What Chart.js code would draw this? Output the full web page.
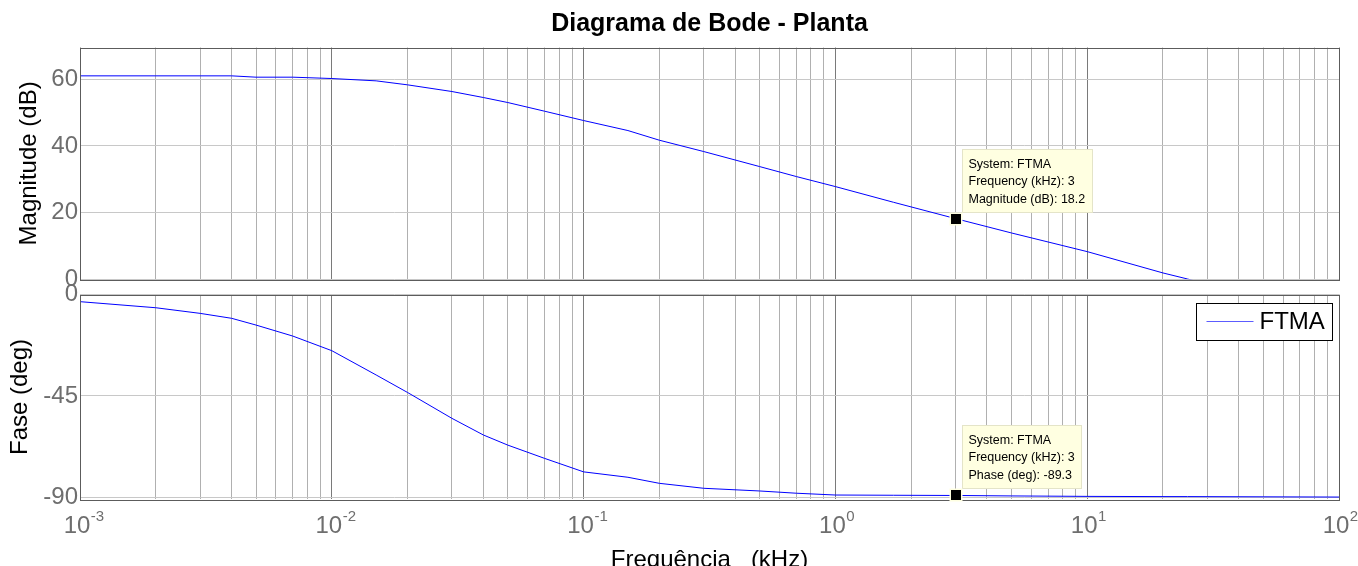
<!DOCTYPE html>
<html>
<head>
<meta charset="utf-8">
<title>Diagrama de Bode - Planta</title>
<script src="https://cdn.jsdelivr.net/npm/chart.js@4.4.1/dist/chart.umd.min.js"></script>
<style>
  html, body { margin: 0; padding: 0; background: #fff; overflow: hidden; }
  #wrap { position: relative; width: 1358px; height: 566px; overflow: hidden; }
  .panel { position: absolute; left: 0; width: 1358px; height: 300px; }
  #magBox { top: 0; }
  #phaseBox { top: 284px; }
</style>
</head>
<body>
<div id="wrap">
  <div class="panel" id="magBox"><canvas id="magChart"></canvas></div>
  <div class="panel" id="phaseBox"><canvas id="phaseChart"></canvas></div>
</div>
<script>
// values
const freqKHz = [0.001, 0.002, 0.003, 0.004, 0.005, 0.007, 0.01, 0.015, 0.02, 0.03, 0.04, 0.05, 0.07,
  0.1, 0.15, 0.2, 0.3, 0.5, 0.7, 1, 1.7, 3, 5, 10, 20, 25, 50, 100];
const magDb = [61.0, 61.0, 61.0, 61.0, 60.6, 60.6, 60.2, 59.5, 58.3, 56.3, 54.5, 53.0, 50.4,
  47.6, 44.6, 41.7, 38.3, 33.8, 30.8, 27.8, 23.1, 18.2, 13.9, 8.3, 1.9, 0.1, -6, -12];
const phaseDeg = [-3.1, -5.8, -8.3, -10.5, -13.5, -18.4, -24.9, -35.7, -43.5, -55.0, -62.4, -66.9, -72.8,
  -78.8, -81.2, -83.9, -86.1, -87.3, -88.3, -89.1, -89.2, -89.3, -89.5, -89.7, -89.8, -89.8, -89.9, -90.0];

const magTicks = [0, 20, 40, 60];
const phaseTicks = [0, -45, -90];
const decades = [-3, -2, -1, 0, 1, 2];

// datatips
const tipFreq = 3;
const tipMag = 18.2;
const tipPhase = -89.3;

const fontFamily = '"Liberation Sans", Arial, Helvetica, sans-serif';
const tickGray = '#6e6e6e';
const lineBlue = '#0000ff';

// 1..9 x 10^e grid lines
const gridFreqs = [];
decades.forEach((e) => {
  if (e === 2) { gridFreqs.push(100); return; }
  for (let m = 1; m <= 9; m++) gridFreqs.push(Number((m * Math.pow(10, e)).toPrecision(3)));
});

function isDecade(v) {
  const l = Math.log10(v);
  return Math.abs(l - Math.round(l)) < 1e-9;
}

function logGridColor(ctx) {
  if (!ctx.tick) return '#b0b0b0';
  return isDecade(ctx.tick.value) ? '#7a7a7a' : '#b0b0b0';
}

const framePlugin = {
  id: 'frame',
  afterDatasetsDraw(chart) {
    const { ctx, chartArea: a } = chart;
    ctx.save();
    ctx.strokeStyle = '#5c5c5c';
    ctx.lineWidth = 1;
    ctx.strokeRect(Math.round(a.left) + 0.5, Math.round(a.top) + 0.5,
      Math.round(a.right - a.left), Math.round(a.bottom - a.top));
    ctx.restore();
  }
};

const datatipPlugin = {
  id: 'datatip',
  afterDraw(chart, args, opts) {
    if (!opts.lines) return;
    const { ctx } = chart;
    const px = chart.scales.x.getPixelForValue(opts.x);
    const py = chart.scales.y.getPixelForValue(opts.y);
    ctx.save();
    ctx.font = '12.5px ' + fontFamily;
    const w = Math.round(Math.max(...opts.lines.map((t) => ctx.measureText(t).width)) + 13);
    const h = opts.lines.length * 17 + 12;
    const bx = Math.round(px + 6) + 0.5;
    const by = Math.round(py - 7 - h) + 0.5;
    ctx.fillStyle = '#ffffe1';
    ctx.fillRect(bx, by, w, h);
    ctx.strokeStyle = '#e4e4c8';
    ctx.lineWidth = 1;
    ctx.strokeRect(bx, by, w, h);
    ctx.fillStyle = '#000';
    ctx.textBaseline = 'middle';
    ctx.textAlign = 'left';
    opts.lines.forEach((t, i) => ctx.fillText(t, bx + 6, by + 15 + i * 17.5));
    // marker
    ctx.fillStyle = '#ffffe1';
    ctx.fillRect(Math.round(px) - 6.5, Math.round(py) - 6.5, 13, 13);
    ctx.fillStyle = '#000';
    ctx.fillRect(Math.round(px) - 5, Math.round(py) - 5, 10, 10);
    ctx.restore();
  }
};

const legendBoxPlugin = {
  id: 'legendBox',
  afterDraw(chart, args, opts) {
    if (!opts.display) return;
    const { ctx, chartArea: a } = chart;
    const ds = chart.data.datasets[0];
    ctx.save();
    ctx.font = '24px ' + fontFamily;
    const tw = ctx.measureText(ds.label).width;
    const w = Math.round(10 + 47 + 6 + tw + 8);
    const h = 37;
    const bx = Math.round(a.right - 7 - w) + 0.5;
    const by = Math.round(a.top + 8) + 0.5;
    ctx.fillStyle = '#fff';
    ctx.fillRect(bx, by, w, h);
    ctx.strokeStyle = '#000';
    ctx.lineWidth = 1;
    ctx.strokeRect(bx, by, w, h);
    ctx.strokeStyle = '#5c5cff';
    ctx.beginPath();
    ctx.moveTo(bx + 10, by + 18);
    ctx.lineTo(bx + 57, by + 18);
    ctx.stroke();
    ctx.fillStyle = '#000';
    ctx.textBaseline = 'middle';
    ctx.textAlign = 'left';
    ctx.fillText(ds.label, bx + 63, by + 19);
    ctx.restore();
  }
};

// superscript exponents next to the "10" tick labels
const labelShift = -3;
const exponentPlugin = {
  id: 'exponents',
  afterDraw(chart, args, opts) {
    if (!opts.display) return;
    const { ctx } = chart;
    const s = chart.scales.x;
    ctx.save();
    ctx.font = '24px ' + fontFamily;
    const baseW = ctx.measureText('10').width;
    ctx.font = '15px ' + fontFamily;
    ctx.fillStyle = tickGray;
    ctx.textBaseline = 'middle';
    ctx.textAlign = 'left';
    decades.forEach((e) => {
      const x = s.getPixelForValue(Math.pow(10, e)) + labelShift;
      ctx.fillText(String(e), x + baseW / 2 + 0.5, s.top + 18);
    });
    ctx.restore();
  }
};

function xAxis(showLabels) {
  return {
    type: 'logarithmic',
    min: 0.001,
    max: 100,
    afterBuildTicks: (s) => { s.ticks = gridFreqs.map((v) => ({ value: v })); },
    afterFit: (s) => {
      s.height = showLabels ? 75.4 : 0;
      s.paddingLeft = 0;
      s.paddingRight = 0;
    },
    ticks: {
      display: showLabels,
      autoSkip: false,
      maxRotation: 0,
      padding: 13,
      labelOffset: labelShift,
      color: tickGray,
      font: { family: fontFamily, size: 24 },
      callback: (v) => (isDecade(v) ? '10' : '')
    },
    grid: { color: logGridColor, drawTicks: false, lineWidth: 1 },
    border: { display: false },
    title: {
      display: showLabels,
      text: 'Frequência   (kHz)',
      color: '#000',
      font: { family: fontFamily, size: 24 },
      padding: { top: 0, bottom: 0 }
    }
  };
}

function yAxis(min, max, ticks, label, titlePad) {
  return {
    min: min,
    max: max,
    afterBuildTicks: (s) => { s.ticks = ticks.map((v) => ({ value: v })); },
    afterFit: (s) => {
      s.width = 80;
      s.paddingTop = 0;
      s.paddingBottom = 0;
    },
    ticks: { color: tickGray, font: { family: fontFamily, size: 24 }, padding: 2 },
    grid: { color: '#c8c8c8', drawTicks: false, lineWidth: 1 },
    border: { display: false },
    title: {
      display: true,
      text: label,
      color: '#000',
      font: { family: fontFamily, size: 24 },
      padding: { top: titlePad, bottom: 0 }
    }
  };
}

function series(values) {
  return freqKHz.map((f, i) => ({ x: f, y: values[i] }));
}

const magChart = new Chart(document.getElementById('magChart'), {
  type: 'line',
  data: {
    datasets: [{
      label: 'FTMA',
      data: series(magDb),
      borderColor: lineBlue,
      borderWidth: 1,
      pointRadius: 0,
      tension: 0,
      fill: false
    }]
  },
  options: {
    responsive: true,
    maintainAspectRatio: false,
    animation: false,
    layout: { padding: { left: 0, right: 19, top: 0, bottom: 20.7 } },
    scales: {
      x: xAxis(false),
      y: yAxis(0, 69.5, magTicks, 'Magnitude (dB)', 14.6)
    },
    plugins: {
      legend: { display: false },
      tooltip: { enabled: false },
      title: {
        display: true,
        fullSize: false,
        text: 'Diagrama de Bode - Planta',
        color: '#000',
        font: { family: fontFamily, size: 25, weight: 'bold' },
        padding: { top: 9.5, bottom: 8 }
      },
      datatip: {
        x: tipFreq,
        y: tipMag,
        lines: ['System: FTMA', 'Frequency (kHz): ' + tipFreq, 'Magnitude (dB): ' + tipMag]
      }
    }
  },
  plugins: [framePlugin, datatipPlugin]
});

const phaseChart = new Chart(document.getElementById('phaseChart'), {
  type: 'line',
  data: {
    datasets: [{
      label: 'FTMA',
      data: series(phaseDeg),
      borderColor: lineBlue,
      borderWidth: 1,
      pointRadius: 0,
      tension: 0,
      fill: false
    }]
  },
  options: {
    responsive: true,
    maintainAspectRatio: false,
    animation: false,
    layout: { padding: { left: 0, right: 19, top: 10.7, bottom: 9.3 } },
    scales: {
      x: xAxis(true),
      y: yAxis(-91, 0, phaseTicks, 'Fase (deg)', 5.6)
    },
    plugins: {
      legend: { display: false },
      tooltip: { enabled: false },
      datatip: {
        x: tipFreq,
        y: tipPhase,
        lines: ['System: FTMA', 'Frequency (kHz): ' + tipFreq, 'Phase (deg): ' + tipPhase]
      },
      legendBox: { display: true },
      exponents: { display: true }
    }
  },
  plugins: [framePlugin, datatipPlugin, legendBoxPlugin, exponentPlugin]
});
</script>
</body>
</html>
